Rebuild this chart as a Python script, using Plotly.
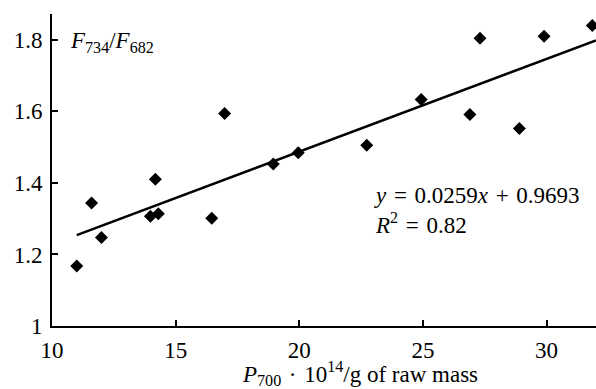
import plotly.graph_objects as go

x_vals = [11.0, 11.6, 12.0, 13.98, 14.3, 14.18, 16.46, 16.98, 18.95, 19.96, 22.73, 24.93, 26.9, 27.31, 28.9, 29.9, 31.85]
y_vals = [1.168, 1.344, 1.247, 1.307, 1.314, 1.41, 1.301, 1.594, 1.453, 1.484, 1.505, 1.633, 1.591, 1.804, 1.552, 1.81, 1.84]
slope = 0.0259
intercept = 0.9693
fit_x = [11.0, 32.0]
fit_y = [slope * v + intercept for v in fit_x]

x_ticks = [10, 15, 20, 25, 30]
y_ticks = [1.0, 1.2, 1.4, 1.6, 1.8]
y_ticktext = ["1", "1.2", "1.4", "1.6", "1.8"]

FONT = "'Liberation Serif', 'Times New Roman', 'DejaVu Serif', serif"
SP = "\u2004"

fig = go.Figure()
fig.add_trace(go.Scatter(x=fit_x, y=fit_y, mode="lines",
                         line=dict(color="black", width=2.5), showlegend=False))
fig.add_trace(go.Scatter(x=x_vals, y=y_vals, mode="markers",
                         marker=dict(symbol="diamond", size=10, color="black"),
                         showlegend=False))

fig.update_layout(
    width=596, height=389,
    margin=dict(l=52, r=0, t=14, b=63),
    paper_bgcolor="white", plot_bgcolor="white",
    font=dict(family=FONT, size=23, color="black"),
    xaxis=dict(range=[10, 32], tickvals=x_ticks, ticks="inside", ticklen=6,
               tickwidth=1.5, tickcolor="black", showline=True, linecolor="black",
               linewidth=2, showgrid=False, zeroline=False, ticklabelstandoff=2,
               automargin=False),
    yaxis=dict(range=[1, 1.872], tickvals=y_ticks, ticktext=y_ticktext,
               ticks="inside", ticklen=6, tickwidth=1.5, tickcolor="black",
               showline=True, linecolor="black", linewidth=2, showgrid=False,
               zeroline=False, ticklabelstandoff=3, automargin=False),
)

fig.add_annotation(text="<i>F</i><sub>734</sub>/<i>F</i><sub>682</sub>",
                   xref="paper", yref="paper", x=(68 - 52) / 544, y=(326 - 42) / 312,
                   xanchor="left", yanchor="middle", showarrow=False,
                   font=dict(family=FONT, size=23))
fig.add_annotation(text="<i>P</i><sub>700</sub>" + SP + "·" + SP + "10<sup>14</sup>/g of raw mass",
                   xref="paper", yref="paper", x=(360 - 52) / 544, y=-(374 - 326) / 312,
                   xanchor="center", yanchor="middle", showarrow=False,
                   font=dict(family=FONT, size=23))
fig.add_annotation(text="<i>y</i>" + SP + "=" + SP + "0.0259<i>x</i>" + SP + "+" + SP + "0.9693<br><i>R</i><sup>2</sup>" + SP + "=" + SP + "0.82",
                   xref="paper", yref="paper", x=(372 - 52) / 544, y=(326 - 210) / 312,
                   xanchor="left", yanchor="middle", align="left", showarrow=False,
                   font=dict(family=FONT, size=23))

fig.write_html("out.html", config={"displayModeBar": False},
               post_script="document.body.style.margin='0';document.body.style.padding='0';")
